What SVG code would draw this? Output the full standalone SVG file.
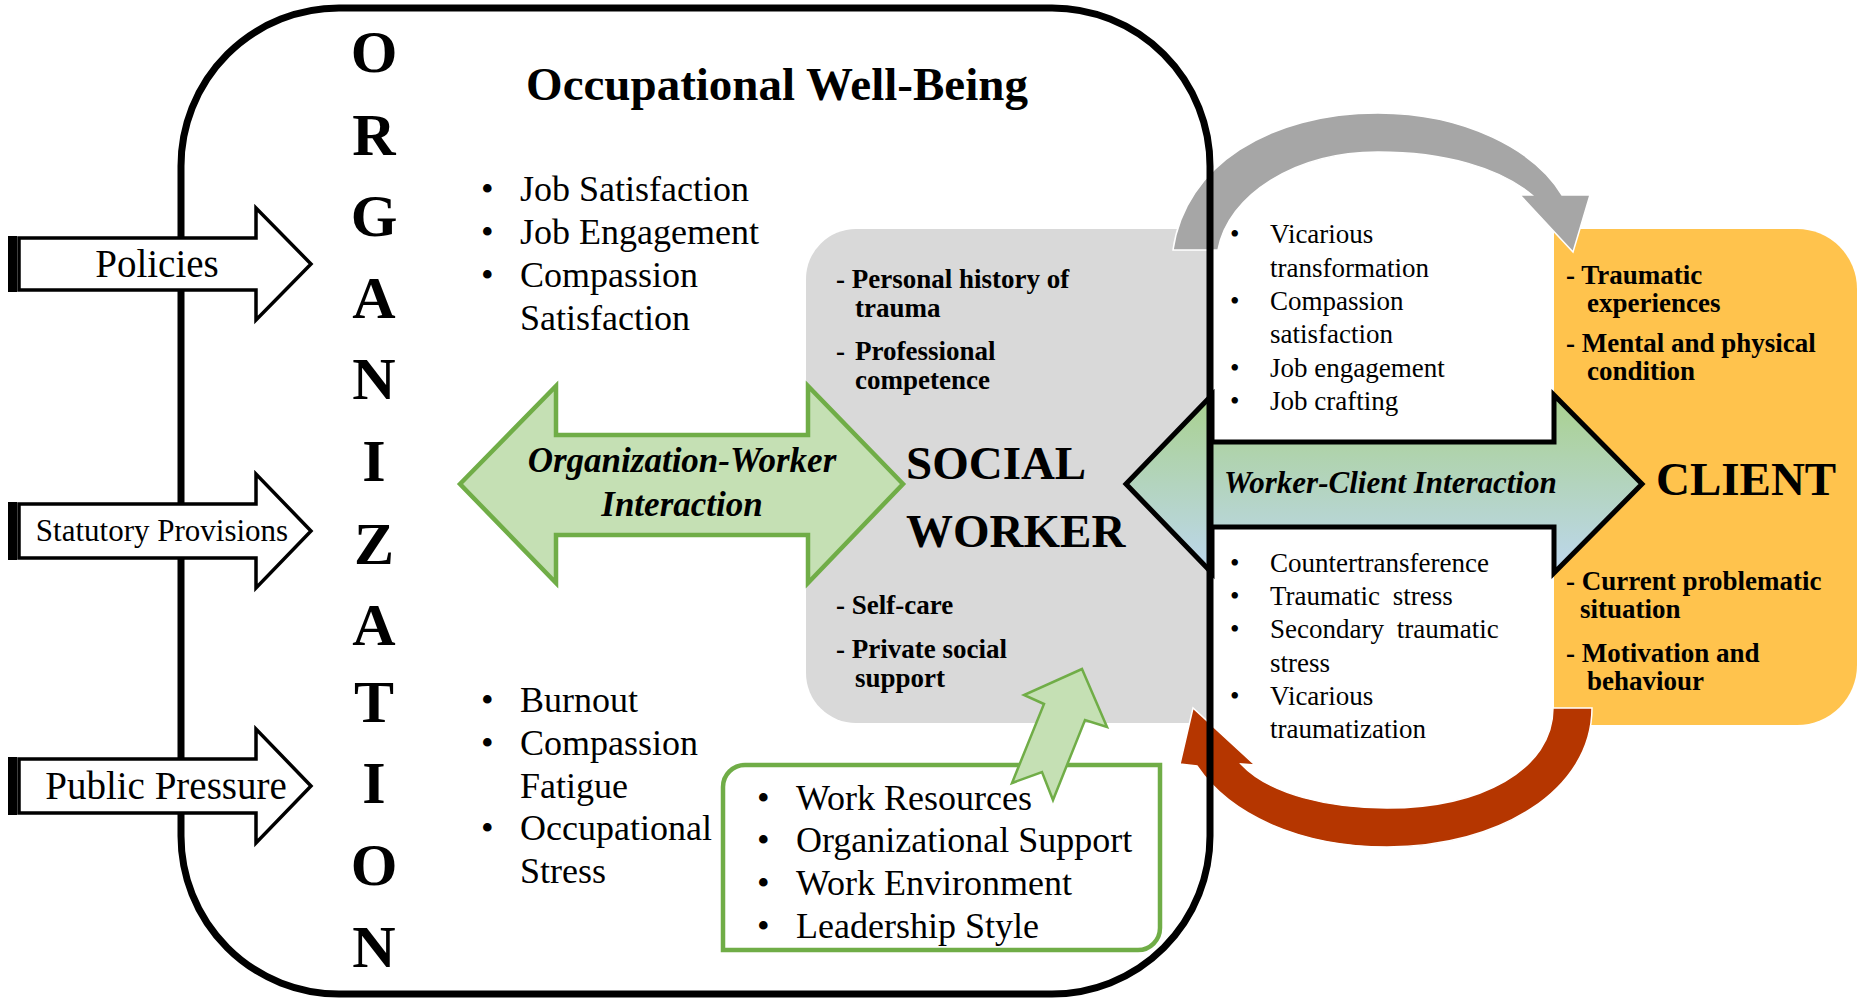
<svg xmlns="http://www.w3.org/2000/svg" width="1864" height="1001" viewBox="0 0 1864 1001">
  <defs>
    <linearGradient id="wcFill" x1="0" y1="0" x2="0" y2="1">
      <stop offset="0" stop-color="#a9d18e"/>
      <stop offset="1" stop-color="#bdd7ee"/>
    </linearGradient>
    <style>
      text { font-family: "Liberation Serif", "Times New Roman", serif; fill: #000; }
      .b { font-weight: bold; }
      .bi { font-weight: bold; font-style: italic; }
      .list { font-size: 36px; }
      .small { font-size: 27px; }
      .org { font-size: 60px; font-weight: bold; text-anchor: middle; }
      .big { font-size: 47px; font-weight: bold; }
      .input { fill: #fff; stroke: #000; stroke-width: 3.5; stroke-linejoin: miter; }
      .bar { fill: #000; }
      .green { fill: #c5e0b4; stroke: #70ad47; stroke-linejoin: miter; }
      .mid { text-anchor: middle; }
    </style>
  </defs>

  <rect x="0" y="0" width="1864" height="1001" fill="#fff"/>

  <!-- Social worker: grey panel with personal factors -->
  <g id="social-worker">
    <path d="M856,229 H1212 V723 H856 A50,50 0 0 1 806,673 V279 A50,50 0 0 1 856,229 Z" fill="#d9d9d9"/>
    <text class="small b" x="836" y="288">- Personal history of</text>
    <text class="small b" x="855" y="317">trauma</text>
    <text class="small b" x="836" y="360">-<tspan x="855">Professional</tspan></text>
    <text class="small b" x="855" y="389">competence</text>
    <text class="big" x="906" y="479">SOCIAL</text>
    <text class="big" x="906" y="547">WORKER</text>
    <text class="small b" x="836" y="614">- Self-care</text>
    <text class="small b" x="836" y="658">- Private social</text>
    <text class="small b" x="855" y="687">support</text>
  </g>

  <!-- Client: orange panel -->
  <g id="client">
    <path d="M1554,229 H1797 A60,60 0 0 1 1857,289 V665 A60,60 0 0 1 1797,725 H1554 Z" fill="#ffc34d"/>
    <text class="small b" x="1566" y="284">- Traumatic</text>
    <text class="small b" x="1587" y="312">experiences</text>
    <text class="small b" x="1566" y="352">- Mental and physical</text>
    <text class="small b" x="1587" y="380">condition</text>
    <text class="big" x="1656" y="495">CLIENT</text>
    <text class="small b" x="1566" y="590">- Current problematic</text>
    <text class="small b" x="1580" y="618">situation</text>
    <text class="small b" x="1566" y="662">- Motivation and</text>
    <text class="small b" x="1587" y="690">behaviour</text>
  </g>

  <!-- Work resources box -->
  <g id="work-resources">
    <path d="M745,765 H1160 V928 A22,22 0 0 1 1138,950 H723 V787 A22,22 0 0 1 745,765 Z" fill="#fff" stroke="#70ad47" stroke-width="4.5"/>
    <g class="list">
      <text x="757" y="810">•</text><text x="796" y="810">Work Resources</text>
      <text x="757" y="852">•</text><text x="796" y="852">Organizational Support</text>
      <text x="757" y="895">•</text><text x="796" y="895">Work Environment</text>
      <text x="757" y="938">•</text><text x="796" y="938">Leadership Style</text>
    </g>
  </g>

  <!-- Interaction arrows and feedback loops -->
  <g id="connectors">
    <!-- positive feedback loop, worker to client -->
    <path d="M1173,250 C1185,165 1270,113 1378,113 C1465,113 1535,150 1562,195 L1590,195 L1573,252 L1520,195 L1532,195 C1500,168 1445,152 1378,152 C1295,152 1228,195 1218,250 Z" fill="#a6a6a6" stroke="#fff" stroke-width="1.5"/>
    <!-- negative feedback loop, client to worker -->
    <path d="M1592,708 C1592,790 1500,847 1387,847 C1300,847 1230,815 1197,766 L1180,764 L1193,708 L1255,765 L1241,764 C1270,795 1330,808 1387,808 C1480,808 1553,770 1553,708 Z" fill="#b53600" stroke="#fff" stroke-width="1.5"/>
    <!-- worker-client interaction -->
    <polygon points="1126,484 1212,395 1212,442 1554,442 1554,395 1642,484 1554,573 1554,527 1212,527 1212,573" fill="url(#wcFill)" stroke="#000" stroke-width="5"/>
    <!-- organization-worker interaction -->
    <polygon class="green" points="460,484 556,386 556,435 808,435 808,386 903,484 808,583 808,535 556,535 556,583" stroke-width="4.5"/>
    <!-- resources feeding the worker -->
    <polygon class="green" points="1082,669 1107,727 1085,720 1053,800 1042,772 1012,783 1044,704 1024,695" stroke-width="2.5"/>
    <text class="bi mid" x="682" y="472" font-size="35">Organization-Worker</text>
    <text class="bi mid" x="682" y="516" font-size="35">Interaction</text>
    <text class="bi" x="1224" y="493" font-size="31">Worker-Client Interaction</text>
  </g>

  <!-- Worker-client outcomes -->
  <g id="wc-outcomes" class="small">
    <text x="1230" y="243">•</text><text x="1270" y="243">Vicarious</text>
    <text x="1270" y="277">transformation</text>
    <text x="1230" y="310">•</text><text x="1270" y="310">Compassion</text>
    <text x="1270" y="343">satisfaction</text>
    <text x="1230" y="377">•</text><text x="1270" y="377">Job engagement</text>
    <text x="1230" y="410">•</text><text x="1270" y="410">Job crafting</text>
    <text x="1230" y="572">•</text><text x="1270" y="572">Countertransference</text>
    <text x="1230" y="605">•</text><text x="1270" y="605" word-spacing="6">Traumatic stress</text>
    <text x="1230" y="638">•</text><text x="1270" y="638" word-spacing="6">Secondary traumatic</text>
    <text x="1270" y="672">stress</text>
    <text x="1230" y="705">•</text><text x="1270" y="705">Vicarious</text>
    <text x="1270" y="738">traumatization</text>
  </g>

  <!-- Organization boundary -->
  <g id="organization">
    <rect x="181" y="8" width="1029" height="986" rx="158" ry="158" fill="none" stroke="#000" stroke-width="7"/>
    <text class="b mid" x="777" y="100" font-size="47">Occupational Well-Being</text>
    <text class="org" x="374" y="72">O</text>
    <text class="org" x="374" y="155">R</text>
    <text class="org" x="374" y="236">G</text>
    <text class="org" x="374" y="318">A</text>
    <text class="org" x="374" y="399">N</text>
    <text class="org" x="374" y="481">I</text>
    <text class="org" x="374" y="564">Z</text>
    <text class="org" x="374" y="645">A</text>
    <text class="org" x="374" y="722">T</text>
    <text class="org" x="374" y="803">I</text>
    <text class="org" x="374" y="885">O</text>
    <text class="org" x="374" y="967">N</text>
  </g>

  <!-- Occupational well-being outcomes -->
  <g id="wellbeing" class="list">
    <text x="481" y="201">•</text><text x="520" y="201">Job Satisfaction</text>
    <text x="481" y="244">•</text><text x="520" y="244">Job Engagement</text>
    <text x="481" y="287">•</text><text x="520" y="287">Compassion</text>
    <text x="520" y="330">Satisfaction</text>
    <text x="481" y="712">•</text><text x="520" y="712">Burnout</text>
    <text x="481" y="755">•</text><text x="520" y="755">Compassion</text>
    <text x="520" y="798">Fatigue</text>
    <text x="481" y="840">•</text><text x="520" y="840">Occupational</text>
    <text x="520" y="883">Stress</text>
  </g>

  <!-- External inputs to the organization -->
  <g id="connectors-inputs">
    <g id="policies">
      <rect class="bar" x="8" y="236" width="9" height="56"/>
      <polygon class="input" points="19,238 256,238 256,208 311,264 256,320 256,290 19,290"/>
      <text class="mid" x="157" y="277" font-size="39">Policies</text>
    </g>
    <g id="statutory">
      <rect class="bar" x="8" y="502" width="9" height="58"/>
      <polygon class="input" points="19,504 256,504 256,474 311,531 256,588 256,558 19,558"/>
      <text class="mid" x="162" y="541" font-size="31">Statutory Provisions</text>
    </g>
    <g id="public">
      <rect class="bar" x="8" y="757" width="9" height="58"/>
      <polygon class="input" points="19,759 256,759 256,729 311,786 256,843 256,813 19,813"/>
      <text class="mid" x="166" y="799" font-size="39">Public Pressure</text>
    </g>
  </g>
</svg>
